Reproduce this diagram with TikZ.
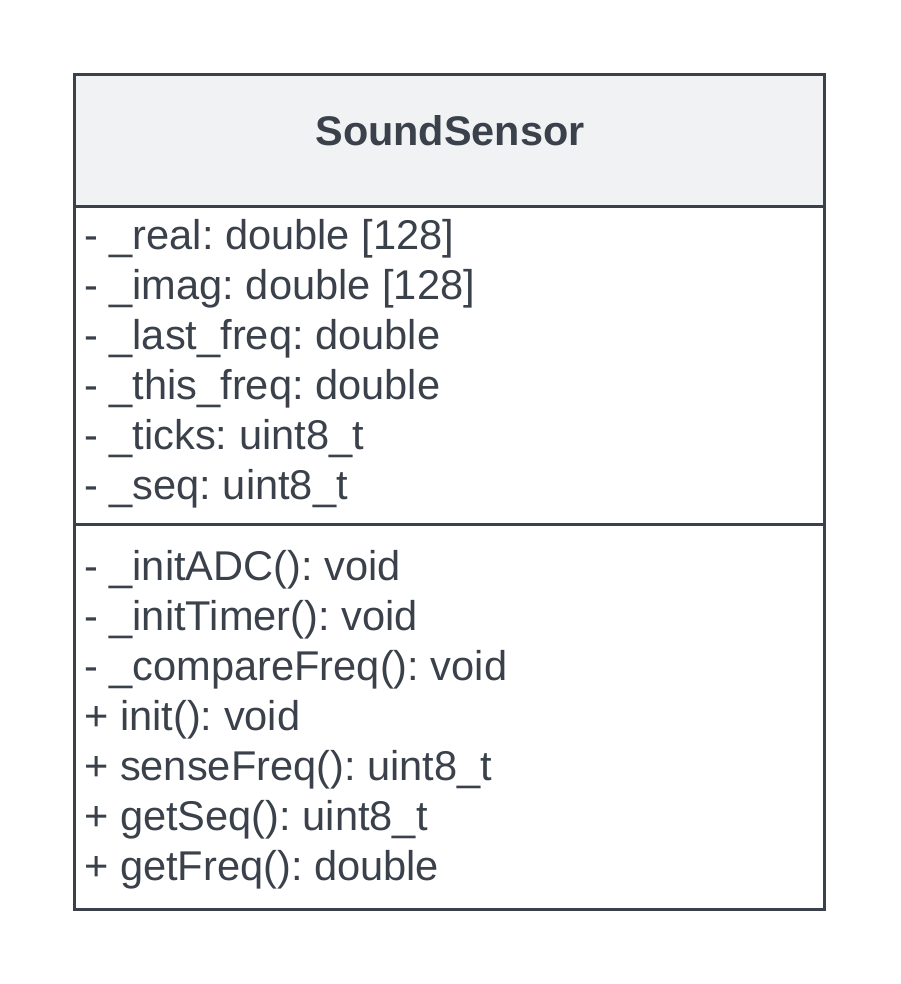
\documentclass[tikz,border=0pt]{standalone}
\usepackage{fontspec}
\setmainfont{Liberation Sans}
\usetikzlibrary{positioning}
\frenchspacing
\definecolor{umlline}{HTML}{3A414A}
\definecolor{umlhead}{HTML}{F1F2F4}
\tikzset{
	member/.style={anchor=base west, inner sep=0pt, text=umlline, font=\fontsize{41.6}{50}\selectfont},
	classname/.style={anchor=base, inner sep=0pt, text=umlline, font=\fontsize{41.4}{50}\selectfont\bfseries},
}

\begin{document}
\begin{tikzpicture}[x=1pt, y=-1pt]
		%%%%% START %%%%%
		\useasboundingbox (0, 0) rectangle (900, 984);
		
		\fill[umlhead] (74.5, 74.5) rectangle (824.5, 206.5);
		\node[classname] (name) at (450, 146) {SoundSensor};
		
		%%%%% ATTRIBUTES %%%%%
		\foreach \txt [count=\i] in {
			- \_real: double [128],
			- \_imag: double [128],
			- \_last\_freq: double,
			- \_this\_freq: double,
			- \_ticks: uint8\_t,
			- \_seq: uint8\_t}
			\node[member] (attr\i) at (84, {199+50*\i}) {\txt};
		
		%%%%% METHODS %%%%%
		\foreach \txt [count=\i] in {
			- \_initADC(): void,
			- \_initTimer(): void,
			- \_compareFreq(): void,
			+ init(): void,
			+ senseFreq(): uint8\_t,
			+ getSeq(): uint8\_t,
			+ getFreq(): double}
			\node[member] (meth\i) at (84, {530+50*\i}) {\txt};
		
		\draw[line width=3pt, color=umlline] (74.5, 206.5) -- (824.5, 206.5);
		\draw[line width=3pt, color=umlline] (74.5, 524.5) -- (824.5, 524.5);
		\draw[line width=3pt, color=umlline] (74.5, 74.5) rectangle (824.5, 909.5);
		
		%%%%% END %%%%%
	\end{tikzpicture}
\end{document}
